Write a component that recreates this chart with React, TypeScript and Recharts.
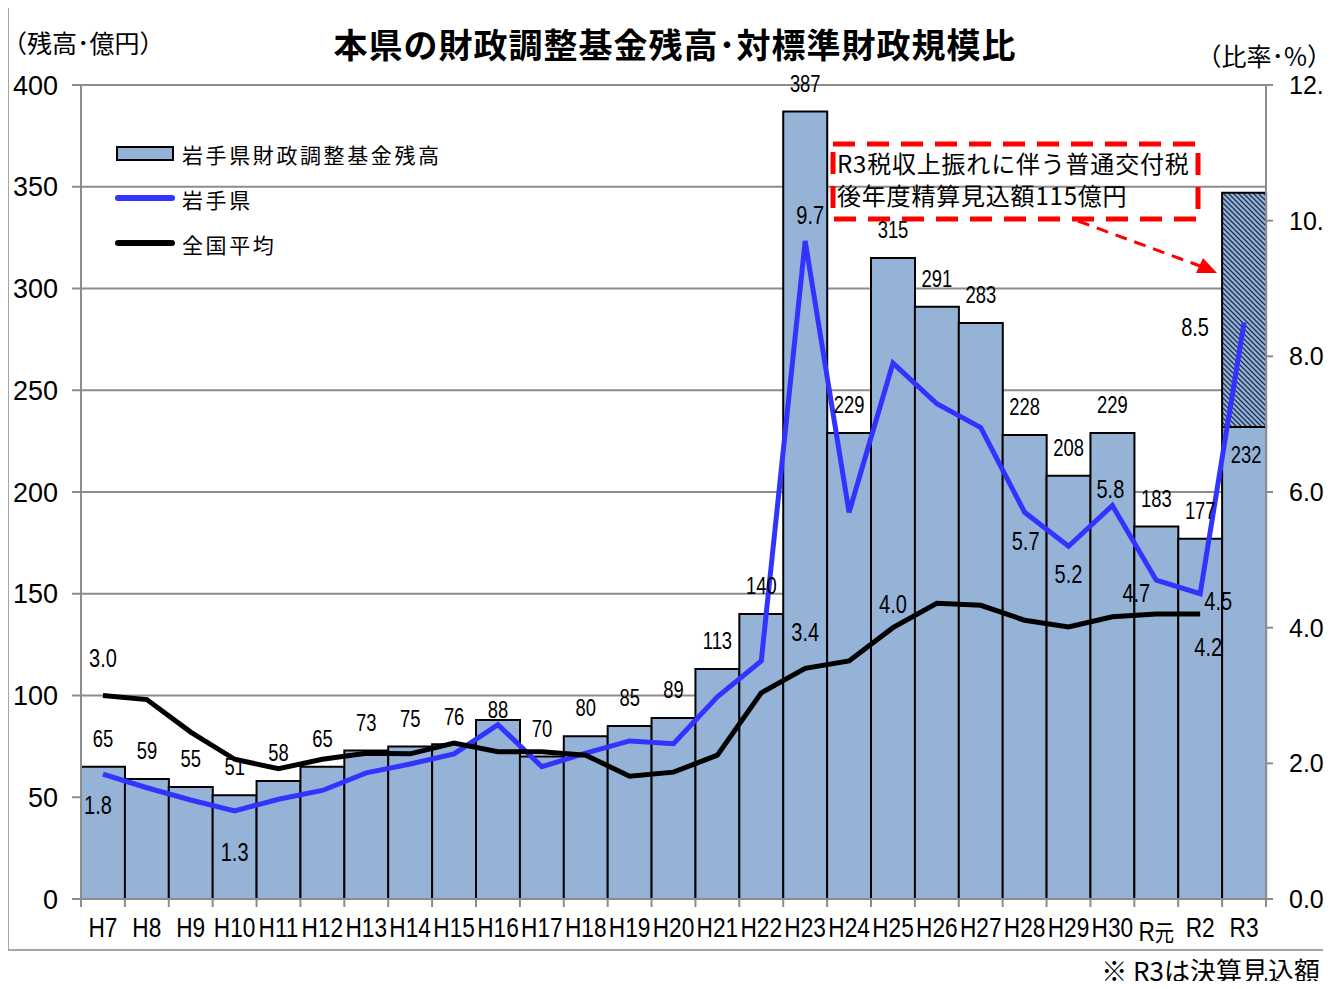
import React from "react";
import {
  ComposedChart,
  Bar,
  Line,
  XAxis,
  YAxis,
  CartesianGrid,
  LabelList,
} from "recharts";

const categories = ["H7", "H8", "H9", "H10", "H11", "H12", "H13", "H14", "H15", "H16", "H17", "H18", "H19", "H20", "H21", "H22", "H23", "H24", "H25", "H26", "H27", "H28", "H29", "H30", "R元", "R2", "R3"];
// 岩手県財政調整基金残高（億円）
const fundBalance = [65, 59, 55, 51, 58, 65, 73, 75, 76, 88, 70, 80, 85, 89, 113, 140, 387, 229, 315, 291, 283, 228, 208, 229, 183, 177, 232];
// R3 upswing (普通交付税後年度精算見込額)
const fundUpswing = [null, null, null, null, null, null, null, null, null, null, null, null, null, null, null, null, null, null, null, null, null, null, null, null, null, null, 115];
const fundTotalLabel = [null, null, null, null, null, null, null, null, null, null, null, null, null, null, null, null, null, null, null, null, null, null, null, null, null, null, 347];
// 対標準財政規模比（%）
const iwateRatio = [1.84, 1.64, 1.46, 1.3, 1.47, 1.6, 1.86, 1.99, 2.14, 2.57, 1.95, 2.15, 2.33, 2.29, 2.98, 3.51, 9.7, 5.7, 7.9, 7.3, 6.95, 5.7, 5.2, 5.8, 4.7, 4.5, 8.5];
const nationalRatio = [3.0, 2.94, 2.46, 2.06, 1.92, 2.06, 2.15, 2.14, 2.3, 2.17, 2.17, 2.12, 1.81, 1.87, 2.12, 3.04, 3.4, 3.51, 4.0, 4.36, 4.33, 4.11, 4.01, 4.16, 4.2, 4.2, null];

const leftTicks = [0, 50, 100, 150, 200, 250, 300, 350, 400];
const rightTicks = [0, 2, 4, 6, 8, 10, 12];

const data = categories.map((c, i) => ({
  name: c,
  base: fundBalance[i],
  extra: fundUpswing[i],
  total: fundTotalLabel[i],
  iwate: iwateRatio[i],
  national: nationalRatio[i],
}));

const BAR_FILL = "#95b3d7";
const BLUE = "#3333ff";
const GRAY = "#8c8c8c";
const SANS = "'Liberation Sans', Arial, sans-serif";
const JP = "'Noto Sans CJK JP', sans-serif";
const BAND = 1185 / 27;
const SQUEEZE = 0.8;

// label offsets (dx, dy) from the point, only where the original shows them
const iwateLabelPos: Record<string, [number, number]> = {
  H7: [-5, 32],
  H10: [0, 42],
  H23: [5, -25],
  H28: [1, 29],
  H29: [0, 28],
  H30: [-2, -16],
  "R元": [-20, 14],
  R2: [18, 8],
  R3: [-49, 5],
};
const nationalLabelPos: Record<string, [number, number]> = {
  H7: [0, -37],
  H23: [0, -36],
  H25: [0, -23],
  R2: [8, 34],
};

const barLabelShift: Record<string, number> = { H16: -10 };

// condensed text: the original uses a narrow face, so squeeze Liberation Sans
const NarrowText = ({ x, y, size, children }: any) => (
  <g transform={`translate(${x},${y}) scale(${SQUEEZE},1)`}>
    <text x={0} y={0} textAnchor="middle" dominantBaseline="central" fontFamily={SANS} fontSize={size} fill="#000">
      {children}
    </text>
  </g>
);

const BarValueLabel = (props: any) => {
  const { x, y, width, value, index } = props;
  if (value == null) return null;
  const cat = categories[index];
  if (cat === "R3") {
    return <NarrowText x={x + width / 2 + 2} y={y + 28} size={23}>{value}</NarrowText>;
  }
  const dy = barLabelShift[cat] ?? -28;
  return <NarrowText x={x + width / 2} y={y + dy} size={23}>{value}</NarrowText>;
};

const TotalLabel = (props: any) => {
  const { x, y, width, index } = props;
  const v = fundTotalLabel[index];
  if (v == null) return null;
  return <NarrowText x={x + width / 2} y={y - 27} size={23}>{v}</NarrowText>;
};

const makeLineLabel = (pos: Record<string, [number, number]>) => (props: any) => {
  const { x, y, value, index } = props;
  const off = pos[categories[index]];
  if (!off || value == null) return null;
  return <NarrowText x={x + off[0]} y={y + off[1]} size={25}>{Number(value).toFixed(1)}</NarrowText>;
};

const CategoryTick = (props: any) => {
  const { x, y, payload, index } = props;
  const isGan = payload.value === "R元";
  return (
    <g>
      <line x1={x - BAND / 2} y1={y} x2={x - BAND / 2} y2={y + 8} stroke={GRAY} strokeWidth={2} />
      {index === categories.length - 1 && (
        <line x1={x + BAND / 2} y1={y} x2={x + BAND / 2} y2={y + 8} stroke={GRAY} strokeWidth={2} />
      )}
      <g transform={`translate(${x},${y + 38}) scale(0.84,1)`}>
        {isGan ? (
          <text x={0} y={0} textAnchor="middle" fontFamily={SANS} fontSize={27} fill="#000">
            <tspan dy={4}>R</tspan>
            <tspan fontFamily={JP} fontSize={23}>元</tspan>
          </text>
        ) : (
          <text x={0} y={0} textAnchor="middle" fontFamily={SANS} fontSize={27} fill="#000">
            {payload.value}
          </text>
        )}
      </g>
    </g>
  );
};

export default function App() {
  return (
    <div style={{ position: "relative", width: 1331, height: 989, margin: -8, overflow: "hidden", background: "#fff" }}>
      <svg width={0} height={0} style={{ position: "absolute" }}>
        <defs>
          <pattern id="hatch" patternUnits="userSpaceOnUse" width={5} height={5}>
            <rect width={5} height={5} fill={BAR_FILL} />
            <path d="M0,0 L5,5 M-1,4 L1,6 M4,-1 L6,1" stroke="#1f2f4f" strokeWidth={1.3} />
          </pattern>
        </defs>
      </svg>
      <div style={{ position: "absolute", left: 0, top: 0 }}>
        <ComposedChart
          width={1331}
          height={989}
          data={data}
          margin={{ top: 85, right: 0, bottom: 0, left: 0 }}
          barCategoryGap={0}
          barGap={0}
        >
          <CartesianGrid yAxisId="left" vertical={false} stroke={GRAY} strokeWidth={2} />
          <XAxis
            dataKey="name"
            height={90}
            tickLine={false}
            tickSize={0}
            tickMargin={0}
            axisLine={{ stroke: GRAY, strokeWidth: 2 }}
            interval={0}
            tick={<CategoryTick />}
          />
          <YAxis
            yAxisId="left"
            width={81}
            domain={[0, 400]}
            ticks={leftTicks}
            interval={0}
            tickSize={9}
            tickMargin={14}
            axisLine={{ stroke: GRAY, strokeWidth: 2 }}
            tickLine={{ stroke: GRAY, strokeWidth: 2 }}
            tick={{ fill: "#000", fontSize: 27, fontFamily: SANS }}
          />
          <YAxis
            yAxisId="right"
            orientation="right"
            width={65}
            domain={[0, 12]}
            ticks={rightTicks}
            interval={0}
            tickSize={7}
            tickMargin={16}
            tickFormatter={(v: number) => v.toFixed(1)}
            axisLine={{ stroke: GRAY, strokeWidth: 2 }}
            tickLine={{ stroke: GRAY, strokeWidth: 2 }}
            tick={{ fill: "#000", fontSize: 25, fontFamily: SANS }}
          />
          <Bar yAxisId="left" dataKey="base" name="岩手県財政調整基金残高" stackId="a" fill={BAR_FILL} stroke="#000" strokeWidth={2} isAnimationActive={false}>
            <LabelList dataKey="base" content={<BarValueLabel />} />
          </Bar>
          <Bar yAxisId="left" dataKey="extra" stackId="a" fill="url(#hatch)" stroke="#000" strokeWidth={2} isAnimationActive={false}>
            <LabelList dataKey="extra" content={<TotalLabel />} />
          </Bar>
          <Line yAxisId="right" type="linear" dataKey="iwate" name="岩手県" stroke={BLUE} strokeWidth={5} dot={false} isAnimationActive={false}>
            <LabelList dataKey="iwate" content={makeLineLabel(iwateLabelPos)} />
          </Line>
          <Line yAxisId="right" type="linear" dataKey="national" name="全国平均" stroke="#000" strokeWidth={5} dot={false} connectNulls={false} isAnimationActive={false}>
            <LabelList dataKey="national" content={makeLineLabel(nationalLabelPos)} />
          </Line>
        </ComposedChart>
      </div>
      <svg width={1331} height={989} style={{ position: "absolute", left: 0, top: 0, pointerEvents: "none" }}>
        <rect x={8} y={1} width={1340} height={949} fill="none" stroke="#a6a6a6" strokeWidth={2} />
        <text x={675} y={58} textAnchor="middle" fontFamily={JP} fontWeight={700} fontSize={34} letterSpacing={1} fill="#000">
          本県の財政調整基金残高･対標準財政規模比
        </text>
        <text x={2} y={53} fontFamily={JP} fontSize={25} fill="#000">（残高･億円）</text>
        <text x={1332} y={66} textAnchor="end" fontFamily={JP} fontSize={25} fill="#000">（比率･%）</text>

        {/* legend */}
        <rect x={117} y={147} width={56} height={13} fill={BAR_FILL} stroke="#000" strokeWidth={2} />
        <text x={182} y={163} fontFamily={JP} fontSize={21} letterSpacing={2.6} fill="#000">岩手県財政調整基金残高</text>
        <line x1={118} y1={198} x2={172} y2={198} stroke={BLUE} strokeWidth={6} strokeLinecap="round" />
        <text x={182} y={208} fontFamily={JP} fontSize={21} letterSpacing={2.6} fill="#000">岩手県</text>
        <line x1={118} y1={243} x2={172} y2={243} stroke="#000" strokeWidth={6} strokeLinecap="round" />
        <text x={182} y={253} fontFamily={JP} fontSize={21} letterSpacing={2.6} fill="#000">全国平均</text>

        {/* annotation */}
        <rect x={833} y={144} width={365} height={75} fill="none" stroke="#ff0000" strokeWidth={5} strokeDasharray="22 12" />
        <text x={837} y={173} fontFamily={JP} fontSize={24} letterSpacing={0.8} fill="#000">R3税収上振れに伴う普通交付税</text>
        <text x={837} y={205} fontFamily={JP} fontSize={24} letterSpacing={0.8} fill="#000">後年度精算見込額115億円</text>
        <line x1={1078} y1={221} x2={1200} y2={266} stroke="#ff0000" strokeWidth={3} strokeDasharray="12 8" />
        <path d="M1217,273 L1196,273 L1203,258 z" fill="#ff0000" />
        <text x={1320} y={981} textAnchor="end" fontFamily={JP} fontSize={26} fill="#000">※  R3は決算見込額</text>
      </svg>
    </div>
  );
}
